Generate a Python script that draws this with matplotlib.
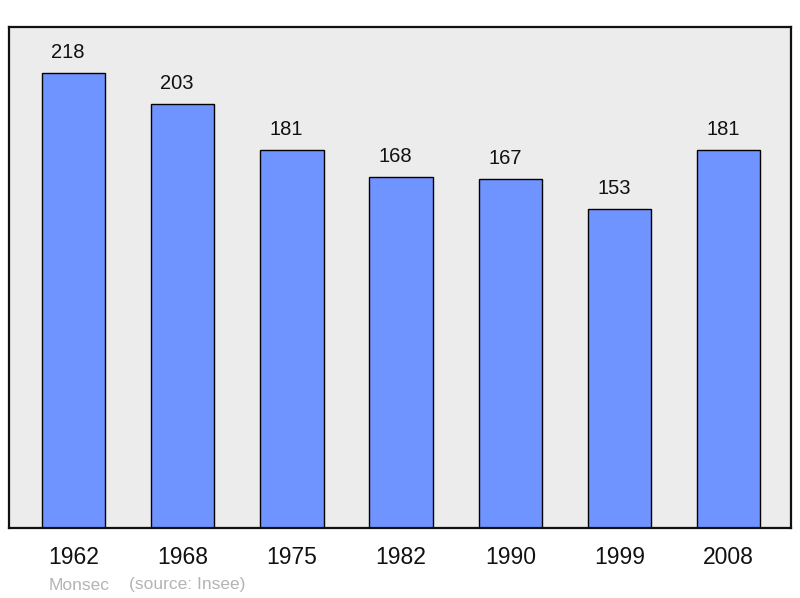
import matplotlib.pyplot as plt

YEARS = ["1962", "1968", "1975", "1982", "1990", "1999", "2008"]
POPULATION = [218, 203, 181, 168, 167, 153, 181]

BAR_COLOR = "#7094ff"
BG_COLOR = "#ececec"

plt.rcParams["font.family"] = ["Liberation Sans", "DejaVu Sans"]

fig = plt.figure(figsize=(8, 5.98), dpi=100)
ax = fig.add_axes([9 / 800, 70 / 598, 782 / 800, 501 / 598])
ax.set_facecolor(BG_COLOR)

x = range(len(YEARS))
ax.bar(x, POPULATION, width=0.58, color=BAR_COLOR, edgecolor="black", linewidth=1.0)

for i, v in zip(x, POPULATION):
    ax.annotate(str(v), (i, v), xytext=(-4, 8), textcoords="offset points",
                ha="center", va="bottom", fontsize=14.5, color="#111111")

ax.set_xlim(-0.59, 6.57)
ax.set_ylim(0, 240)
ax.set_xticks(list(x))
ax.set_xticklabels(YEARS, fontsize=16.5, color="#111111")
ax.tick_params(axis="x", length=0, pad=13)
ax.set_yticks([])

for spine in ax.spines.values():
    spine.set_linewidth(1.6)
    spine.set_color("#111111")

fig.text(49 / 800, 1 - 585 / 598, "Monsec", fontsize=12.5, color="#b4b4b4", va="center")
fig.text(129 / 800, 1 - 585 / 598, "(source: Insee)", fontsize=12.5, color="#b4b4b4", va="center")

fig.savefig("out.png", dpi=100)
